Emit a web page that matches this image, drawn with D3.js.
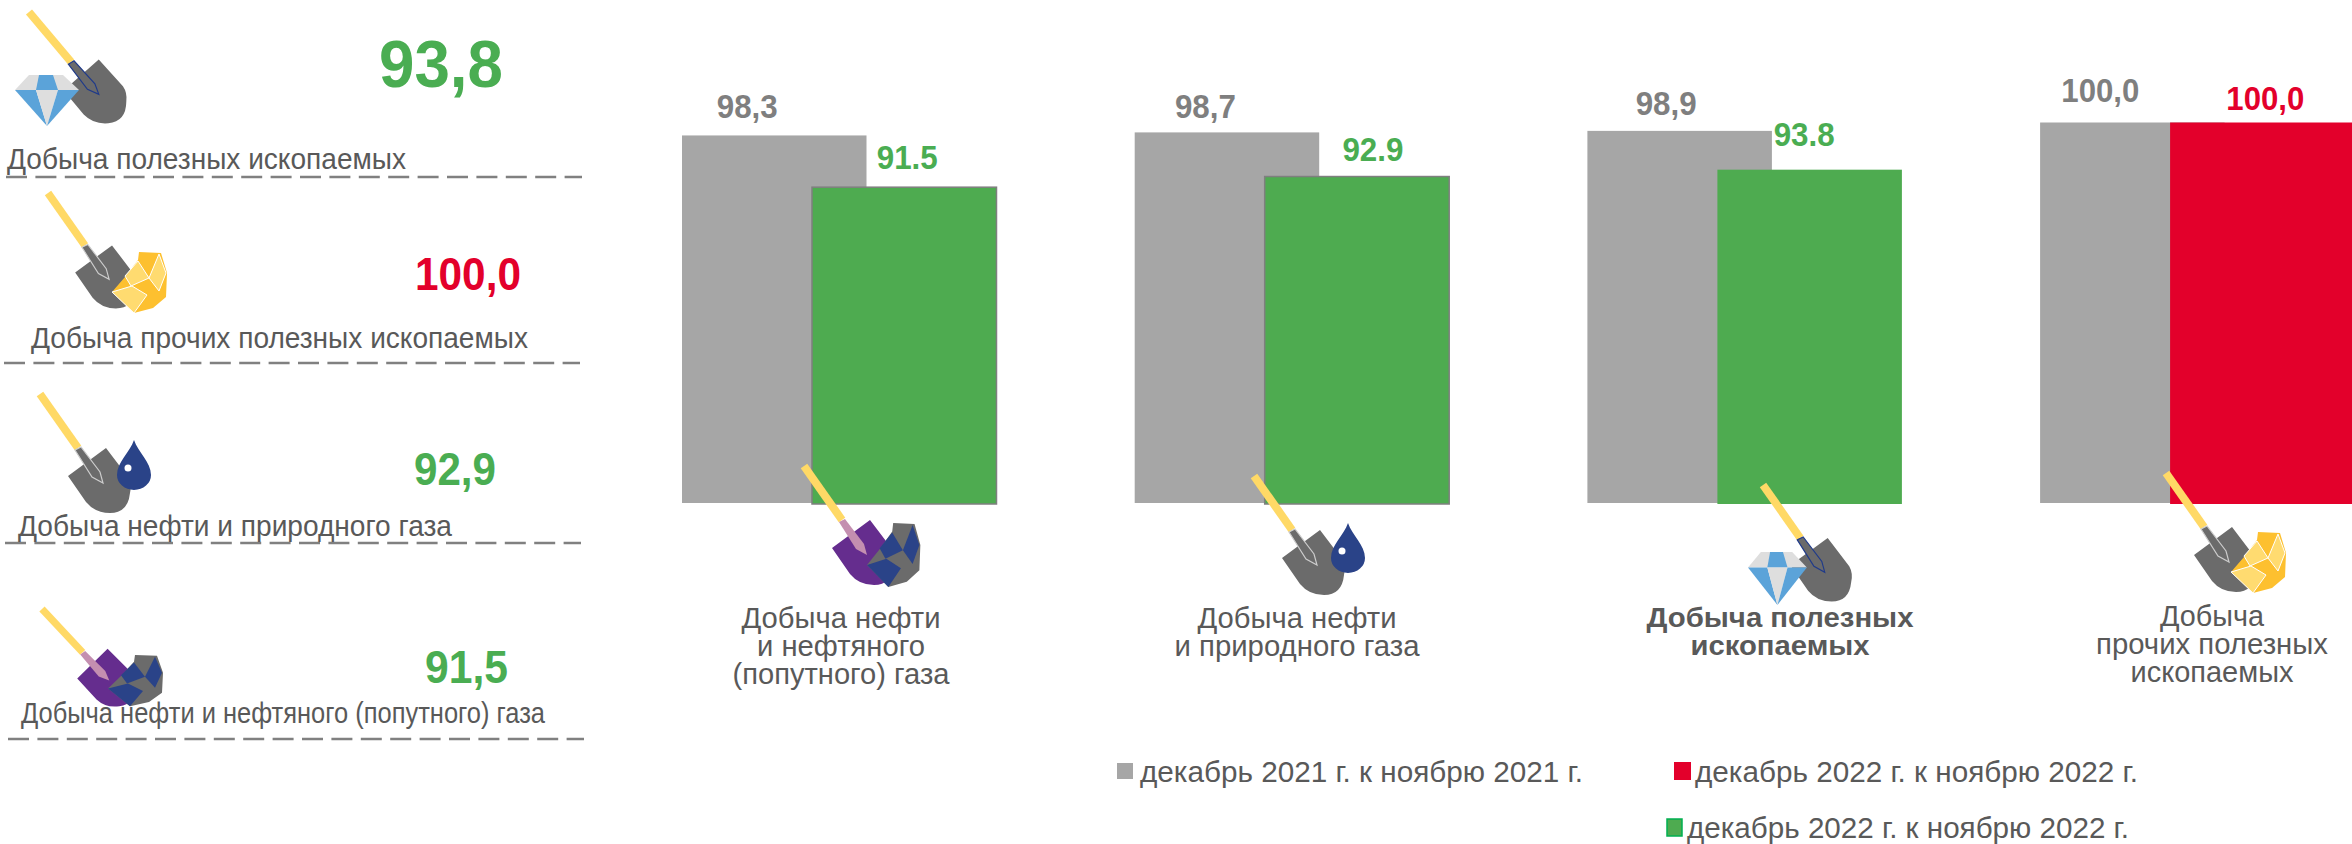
<!DOCTYPE html>
<meta charset="utf-8">
<script src="https://d3js.org/d3.v7.min.js"></script>
<style>
	html, body { margin: 0; padding: 0; background: #fff; overflow: hidden; }
	text { font-family: "Liberation Sans", Arial, sans-serif; }
</style>
<body>
<script>
// data
var categories = ["oilAssociated", "oilNatural", "mining", "other"];
var dec2021 = [98.3, 98.7, 98.9, 100.0];
var dec2022 = [91.5, 92.9, 93.8, 100.0];
var categoryLines = [
	["Добыча нефти", "и нефтяного", "(попутного) газа"],
	["Добыча нефти", "и природного газа"],
	["Добыча полезных", "ископаемых"],
	["Добыча", "прочих полезных", "ископаемых"]
];
var summaryNames = ["Добыча полезных ископаемых", "Добыча прочих полезных ископаемых", "Добыча нефти и природного газа", "Добыча нефти и нефтяного (попутного) газа"];
var summaryValues = [93.8, 100.0, 92.9, 91.5];
var legendNames = ["декабрь 2021 г. к ноябрю 2021 г.", "декабрь 2022 г. к ноябрю 2022 г.", "декабрь 2022 г. к ноябрю 2022 г."];

var GRAY = "#a6a6a6", GREEN = "#4eab50", GREEN_TEXT = "#4aad52", RED = "#e3002b", TEXT = "#595959", LABEL_GRAY = "#7f7f7f";
var YELLOW = "#ffd966", SHOVEL = "#6b6b6b", NAVY = "#2a4388";

var svg = d3.select("body").append("svg").attr("width", 2352).attr("height", 844);

var x = d3.scaleBand().domain(categories).range([682, 682 + 4 * 452.7]);
var offset = d3.scaleOrdinal(["prev", "cur"]).range([0, 130]);
var y = d3.scaleLinear().domain([50, 100]).range([503, 122.5]);
var barW = 184.5;

function comma(v) { return v.toFixed(1).replace(".", ","); }
function dot(v) { return v.toFixed(1); }

function fitted(sel, t, px, py, size, len, weight, color, anchor) {
	return sel.append("text")
		.attr("x", px).attr("y", py)
		.attr("font-size", size)
		.attr("font-weight", weight)
		.attr("fill", color)
		.attr("text-anchor", anchor || "start")
		.attr("textLength", len)
		.attr("lengthAdjust", "spacingAndGlyphs")
		.text(t);
}

// ---- bars
var prevBars = categories.map(function (c, i) { return {c: c, v: dec2021[i]}; });
var curBars = categories.map(function (c, i) { return {c: c, v: dec2022[i], i: i}; });

svg.selectAll(".prev").data(prevBars).enter().append("rect")
	.attr("class", "prev")
	.attr("x", function (d) { return x(d.c) + offset("prev"); })
	.attr("y", function (d) { return y(d.v); })
	.attr("width", barW)
	.attr("height", function (d) { return y(50) - y(d.v); })
	.attr("fill", GRAY);

svg.selectAll(".cur").data(curBars).enter().append("rect")
	.attr("class", "cur")
	.attr("x", function (d) { return x(d.c) + offset("cur"); })
	.attr("y", function (d) { return y(d.v); })
	.attr("width", barW)
	.attr("height", function (d) { return y(50) - y(d.v) + 1; })
	.attr("fill", function (d) { return d.v == 100 ? RED : GREEN; })
	.attr("stroke", function (d) { return d.i < 2 ? LABEL_GRAY : "none"; })
	.attr("stroke-width", 1.5);

// the value labels sit by hand in the original, so they need a nudge each
var prevNudge = [[-27, -17.5], [-21.5, -14], [-13.5, -15.5], [-32, -21]];
var curNudge = [[3, -18], [16, -16], [-5.5, -24], [3, -13]];

prevBars.forEach(function (d, i) {
	var cx = x(d.c) + offset("prev") + barW / 2 + prevNudge[i][0];
	var w = d.v == 100 ? 78 : 61;
	fitted(svg, comma(d.v), cx, y(d.v) + prevNudge[i][1], 33, w, "bold", LABEL_GRAY, "middle");
});
curBars.forEach(function (d, i) {
	var cx = x(d.c) + offset("cur") + barW / 2 + curNudge[i][0];
	var w = d.v == 100 ? 78 : 61;
	fitted(svg, d.v == 100 ? comma(d.v) : dot(d.v), cx, y(d.v) + curNudge[i][1], 33, w, "bold", d.v == 100 ? RED : GREEN_TEXT, "middle");
});

// ---- category captions under the bars
var captionX = [841, 1297, 1780, 2212];
var captionY = [[628, 656, 684], [628, 656], [627, 655], [626, 654, 682]];
var captionW = [[199, 168, 217], [199, 245], [267, 179], [104, 232, 163]];
categoryLines.forEach(function (lines, i) {
	lines.forEach(function (t, j) {
		fitted(svg, t, captionX[i], captionY[i][j], i == 2 ? 28 : 29, captionW[i][j], i == 2 ? "bold" : "normal", TEXT, "middle");
	});
});

// ---- left column
var summaryX = [7, 31, 18, 21], summaryY = [169, 348, 536, 723], summaryW = [399, 497, 434, 524];
var valueX = [379, 415, 414, 425], valueY = [87, 290, 485, 683], valueW = [124, 106, 82, 83], valueSize = [66, 46, 46, 46];
var ruleY = [177, 363, 543, 739], ruleX = [6, 4, 5, 8];

summaryNames.forEach(function (t, i) {
	svg.append("line")
		.attr("x1", ruleX[i]).attr("x2", ruleX[i] + 576)
		.attr("y1", ruleY[i]).attr("y2", ruleY[i])
		.attr("stroke", "#808080")
		.attr("stroke-width", 2.5)
		.attr("stroke-dasharray", "21 8.4");
	fitted(svg, t, summaryX[i], summaryY[i], 30, summaryW[i], "normal", TEXT);
	var v = summaryValues[i];
	fitted(svg, comma(v), valueX[i], valueY[i], valueSize[i], valueW[i], "bold", v == 100 ? RED : GREEN_TEXT);
});

// ---- legend
var legendColors = [GRAY, RED, GREEN];
var legendBox = [[1117, 763, 16, 16], [1674, 762, 17, 18], [1667, 819, 15, 17]];
var legendText = [[1140, 782, 443], [1695, 782, 443], [1687, 838, 442]];
legendNames.forEach(function (t, i) {
	var b = legendBox[i];
	svg.append("rect")
		.attr("x", b[0]).attr("y", b[1]).attr("width", b[2]).attr("height", b[3])
		.attr("fill", legendColors[i])
		.attr("stroke", i == 2 ? "#00b050" : "none")
		.attr("stroke-width", 1.5);
	fitted(svg, t, legendText[i][0], legendText[i][1], 30, legendText[i][2], "normal", TEXT);
});

// ---- icons
function poly(g, pts, fill, stroke, sw) {
	return g.append("polygon")
		.attr("points", pts.map(function (p) { return p.join(","); }).join(" "))
		.attr("fill", fill)
		.attr("stroke", stroke || "none")
		.attr("stroke-width", sw || 0);
}

function shovel(px, py, rot, s, blade, neck, neckStroke) {
	var g = svg.append("g").attr("transform", "translate(" + px + "," + py + ") rotate(" + rot + ") scale(" + s + ")");
	g.append("line").attr("x1", 0).attr("y1", 0).attr("x2", 38).attr("y2", 54)
		.attr("stroke", YELLOW).attr("stroke-width", 8);
	g.append("path")
		.attr("d", "M28 82 L66 54 L88 83 Q92 90 90 99 Q88 119 70 119 Q55 119 46 108 Z")
		.attr("fill", blade);
	poly(g, [[35, 56], [41, 53], [60, 78], [63, 89], [52, 83]], neck, neckStroke, 1.2);
}

function diamond(px, py, sx, sy) {
	var g = svg.append("g").attr("transform", "translate(" + px + "," + py + ") scale(" + sx + "," + sy + ")");
	poly(g, [[14, 0], [48, 0], [64, 15], [0, 15]], "#dedede");
	poly(g, [[24, 0], [38, 0], [43, 15], [21, 15]], "#5ba3d9");
	poly(g, [[0, 15], [21, 15], [32, 51]], "#5ba3d9");
	poly(g, [[21, 15], [43, 15], [32, 51]], "#dedede");
	poly(g, [[43, 15], [64, 15], [32, 51]], "#5ba3d9");
}

// nugget and coal are the same lump in different colours
function lump(px, py, sx, sy, main, facet, edge) {
	var g = svg.append("g").attr("transform", "translate(" + px + "," + py + ") scale(" + sx + "," + sy + ")");
	poly(g, [[27, 0], [49, 1], [55, 21], [54, 45], [41, 56], [22, 61], [0, 40], [13, 25], [26, 8]], main);
	poly(g, [[26, 9], [37, 26], [19, 34], [13, 24]], facet, edge, 1);
	poly(g, [[47, 2], [54, 21], [47, 39], [37, 26]], facet, edge, 1);
	poly(g, [[0, 40], [20, 34], [35, 43], [22, 61]], facet, edge, 1);
}

function drop(px, py) {
	var g = svg.append("g").attr("transform", "translate(" + px + "," + py + ")");
	g.append("path")
		.attr("d", "M0 0 C4 12 17 22 17 35 A17 15 0 0 1 -17 35 C-17 22 -4 12 0 0 Z")
		.attr("fill", NAVY);
	g.append("circle").attr("cx", -6).attr("cy", 28).attr("r", 3.5).attr("fill", "#fff");
}

// left column icons
shovel(29, 12, -5, 0.99, SHOVEL, SHOVEL, "#1f3a8a");
diamond(15, 75, 1, 1);
shovel(48, 193, 0, 0.97, SHOVEL, SHOVEL, "#cccccc");
lump(112, 252, 1, 1, "#fdc02f", "#ffdb70", "#fff");
shovel(40, 394, 0, 1, SHOVEL, SHOVEL, "#cccccc");
drop(134, 440);
shovel(42, 609, -8, 0.9, "#652d8e", "#c48fb0", "none");
lump(108, 655, 1, 0.84, SHOVEL, NAVY, "none");

// icons under the bars
shovel(804, 466, 0, 1, "#652d8e", "#c48fb0", "none");
lump(867, 523, 0.97, 1.05, SHOVEL, NAVY, "none");
shovel(1254, 476, 0, 1, SHOVEL, SHOVEL, "#cccccc");
drop(1348, 523);
shovel(1763, 485, 0, 0.98, SHOVEL, SHOVEL, "#1f3a8a");
diamond(1748, 552, 0.92, 1.04);
shovel(2166, 473, 0, 1, SHOVEL, SHOVEL, "#cccccc");
lump(2231, 532, 1, 1, "#fdc02f", "#ffdb70", "#fff");
</script>
</body>
</html>
